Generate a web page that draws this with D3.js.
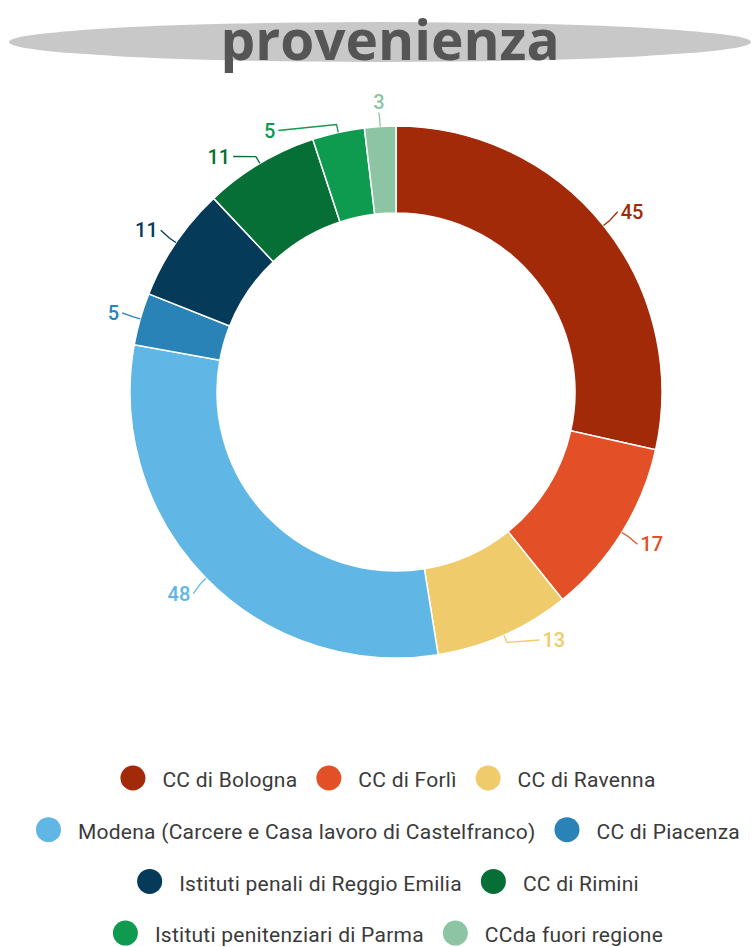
<!DOCTYPE html>
<html><head><meta charset="utf-8">
<script src="https://cdn.jsdelivr.net/npm/d3@7"></script>
<style>
html,body{margin:0;padding:0;background:#fff;}
svg{display:block;}
</style></head>
<body>
<svg id="chart" width="752" height="947"></svg>
<script>
const categories = [
  "CC di Bologna",
  "CC di Forlì",
  "CC di Ravenna",
  "Modena (Carcere e Casa lavoro di Castelfranco)",
  "CC di Piacenza",
  "Istituti penali di Reggio Emilia",
  "CC di Rimini",
  "Istituti penitenziari di Parma",
  "CCda fuori regione"
];
const values = [45, 17, 13, 48, 5, 11, 11, 5, 3];
const colors = ["#a32a08","#e34f26","#efcb6b","#60b6e4","#2a83b6","#063a59","#066f35","#0e9a4f","#8cc4a4"];
const title = "provenienza";

const W = 752, H = 947;
const cx = 396, cy = 392, rOuter = 266, rInner = 179, rLabel = 288;
const svg = d3.select("#chart");

// title ellipse
svg.append("ellipse").attr("cx", 380).attr("cy", 42).attr("rx", 371).attr("ry", 20).attr("fill", "#c8c8c8");
svg.append("text").attr("x", 390).attr("y", 60).attr("text-anchor", "middle")
  .attr("font-family", "'Open Sans', sans-serif").attr("font-weight", 700).attr("font-size", 55)
  .attr("fill", "#555").text(title);

const data = categories.map((c, i) => ({name: c, value: values[i], color: colors[i]}));
const pie = d3.pie().value(d => d.value).sort(null);
const arcs = pie(data);
const arc = d3.arc().innerRadius(rInner).outerRadius(rOuter);

const g = svg.append("g").attr("transform", `translate(${cx},${cy})`);
g.selectAll("path.slice").data(arcs).join("path").attr("class", "slice")
  .attr("d", arc).attr("fill", d => d.data.color).attr("stroke", "#fff").attr("stroke-width", 1.5);

// labels with simple vertical de-overlap per side
const labels = arcs.map(d => {
  const a = (d.startAngle + d.endAngle) / 2;
  const s = Math.sin(a);
  const side = Math.abs(s) < 0.12 ? "mid" : (s > 0 ? "right" : "left");
  return {d, a, side, y: -rLabel * Math.cos(a)};
});
const minGap = 26, maxY = 248;
["left", "right"].forEach(side => {
  const group = labels.filter(l => l.side === side || (side === "left" && l.side === "mid")).sort((p, q) => p.y - q.y);
  for (let i = 1; i < group.length; i++) {
    if (group[i].y - group[i-1].y < minGap) group[i].y = group[i-1].y + minGap;
  }
  group.forEach(l => { if (l.y > maxY) l.y = maxY; });
  for (let i = group.length - 2; i >= 0; i--) {
    if (group[i+1].y - group[i].y < minGap) group[i].y = group[i+1].y - minGap;
  }
});
labels.forEach(l => {
  if (l.side === "mid") { l.x = rLabel * Math.sin(l.a); return; }
  const dx = Math.sqrt(Math.max(0, rLabel * rLabel - l.y * l.y));
  l.x = l.side === "right" ? dx : -dx;
});

const lg = g.append("g");
labels.forEach(l => {
  const ax = rOuter * Math.sin(l.a), ay = -rOuter * Math.cos(l.a);
  const bx = (rOuter + 8) * Math.sin(l.a), by = -(rOuter + 8) * Math.cos(l.a);
  let ex, ey;
  if (l.side === "mid") { ex = l.x; ey = l.y + 8; }
  else { ex = l.x + (l.side === "right" ? -3 : 3); ey = l.y; }
  lg.append("polyline").attr("points", [[ax, ay], [bx, by], [ex, ey]].map(p => p.join(",")).join(" "))
    .attr("fill", "none").attr("stroke", l.d.data.color).attr("stroke-width", 1.3);
  lg.append("text").attr("x", l.x).attr("y", l.side === "mid" ? l.y - 3 : l.y).attr("dy", "0.35em")
    .attr("text-anchor", l.side === "mid" ? "middle" : (l.side === "right" ? "start" : "end"))
    .attr("font-family", "Roboto, sans-serif").attr("font-size", 20).attr("font-weight", 500)
    .attr("fill", l.d.data.color).text(l.d.data.value);
});

// legend with wrapping
const legend = svg.append("g");
const fontSize = 21, rDot = 12.5, textGap = 17, itemGap = 19, maxRowW = 730, legendCx = 388;
const rowYs0 = 778, rowStep = 51.7;
const items = data.map(d => {
  const t = legend.append("text").attr("font-family", "Roboto, sans-serif").attr("font-size", fontSize)
    .attr("letter-spacing", 0.25)
    .attr("fill", "#3a3a3a").attr("dy", "0.35em").text(d.name);
  const tw = t.node().getComputedTextLength();
  return {d, t, w: rDot * 2 + textGap + tw};
});
const rows = [];
let cur = [], curW = 0;
items.forEach(it => {
  const add = (cur.length ? itemGap : 0) + it.w;
  if (cur.length && curW + add > maxRowW) { rows.push({items: cur, w: curW}); cur = []; curW = 0; }
  curW += (cur.length ? itemGap : 0) + it.w;
  cur.push(it);
});
if (cur.length) rows.push({items: cur, w: curW});
rows.forEach((row, ri) => {
  const y = rowYs0 + ri * rowStep;
  let x = legendCx - row.w / 2;
  row.items.forEach(it => {
    legend.append("circle").attr("cx", x + rDot).attr("cy", y).attr("r", rDot).attr("fill", it.d.color);
    it.t.attr("x", x + rDot * 2 + textGap).attr("y", y + 2);
    x += it.w + itemGap;
  });
});
</script>
</body></html>
